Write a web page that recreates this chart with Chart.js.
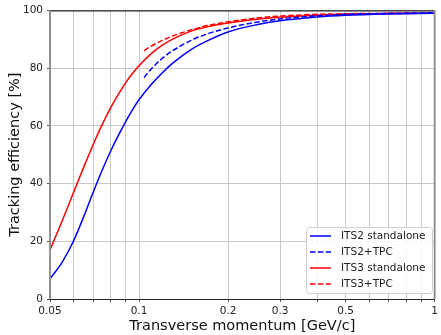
<!DOCTYPE html>
<html><head><meta charset="utf-8">
<script src="https://cdn.jsdelivr.net/npm/chart.js@4.4.0/dist/chart.umd.min.js"></script>
<style>html,body{margin:0;padding:0;background:#fff;} canvas{display:block;}</style>
</head><body>
<canvas id="c" width="441" height="335"></canvas>
<script>
const ptStandalone = [0.05,0.055,0.06,0.065,0.07,0.075,0.08,0.085,0.09,0.095,0.1,0.11,0.12,0.13,0.15,0.17,0.2,0.25,0.3,0.4,0.5,0.7,1.0];
const its2Standalone = [7,12.8,20,28.5,37,44.5,51,56.5,61.3,65.5,69,74.3,78.4,81.7,86.4,89.4,92.5,95.0,96.4,97.7,98.3,98.75,99.0];
const its3Standalone = [17,27.1,36.8,45.6,53.5,60.3,66.0,70.8,74.8,78.1,80.8,85.0,87.9,90.0,92.8,94.3,95.6,96.9,97.6,98.3,98.6,98.85,99.0];
const ptTpc = [0.104,0.11,0.12,0.13,0.15,0.17,0.2,0.25,0.3,0.4,0.5,0.7,1.0];
const its2Tpc = [76.7,79.7,83.4,86.0,89.6,91.8,93.9,95.9,97.0,98.1,98.6,98.95,99.15];
const its3Tpc = [86.0,87.6,89.6,91.1,93.2,94.7,96.0,97.3,98.0,98.6,98.8,98.95,99.05];
const seriesLabels = ['ITS2 standalone','ITS2+TPC','ITS3 standalone','ITS3+TPC'];
const xTickValues = [0.05,0.06,0.07,0.08,0.09,0.1,0.2,0.3,0.4,0.5,0.6,0.7,0.8,0.9,1];
const xTickLabels = {0.05:'0.05',0.1:'0.1',0.2:'0.2',0.3:'0.3',0.5:'0.5',1:'1'};
const yTickValues = [0,20,40,60,80,100];

const toPts = (xs, ys) => xs.map((x,i)=>({x:x, y:ys[i]}));
const FONT = 'DejaVu Sans';

const frameAndLegend = {
  id: 'frameAndLegend',
  afterDraw(chart) {
    const ctx = chart.ctx, a = chart.chartArea;
    ctx.save();
    ctx.lineWidth = 1.2;
    ctx.strokeStyle = '#222';
    ctx.beginPath();
    ctx.moveTo(a.left, a.top + 0.5); ctx.lineTo(a.right, a.top + 0.5);
    ctx.moveTo(a.left, a.bottom + 0.5); ctx.lineTo(a.right, a.bottom + 0.5);
    ctx.stroke();
    ctx.strokeStyle = '#8a8a8a';
    ctx.lineWidth = 1.8;
    ctx.beginPath();
    ctx.moveTo(a.left, a.top); ctx.lineTo(a.left, a.bottom);
    ctx.moveTo(a.right, a.top); ctx.lineTo(a.right, a.bottom);
    ctx.stroke();
    // legend
    const bx = 306, by = 227, bw = 126, bh = 66, r = 3;
    ctx.fillStyle = 'rgba(255,255,255,0.85)';
    ctx.strokeStyle = '#d0d0d0';
    ctx.lineWidth = 1;
    ctx.beginPath();
    ctx.roundRect(bx + 0.5, by + 0.5, bw, bh, r);
    ctx.fill(); ctx.stroke();
    ctx.font = '10.5px "' + FONT + '"';
    ctx.textBaseline = 'middle';
    ctx.textAlign = 'left';
    chart.data.datasets.forEach((ds, i) => {
      const yy = 236 + i * 16;
      ctx.strokeStyle = ds.borderColor;
      ctx.lineWidth = 1.5;
      ctx.setLineDash(ds.borderDash || []);
      ctx.beginPath();
      ctx.moveTo(310, yy); ctx.lineTo(331, yy);
      ctx.stroke();
      ctx.setLineDash([]);
      ctx.fillStyle = '#222';
      ctx.fillText(ds.label, 341, yy + 0.5);
    });
    ctx.restore();
  }
};

new Chart(document.getElementById('c'), {
  type: 'line',
  data: {
    datasets: [
      {label: seriesLabels[0], data: toPts(ptStandalone, its2Standalone), borderColor: '#0000ff', borderWidth: 1.5},
      {label: seriesLabels[1], data: toPts(ptTpc, its2Tpc), borderColor: '#0000ff', borderWidth: 1.5, borderDash: [5.5, 2.4]},
      {label: seriesLabels[2], data: toPts(ptStandalone, its3Standalone), borderColor: '#ff0000', borderWidth: 1.5},
      {label: seriesLabels[3], data: toPts(ptTpc, its3Tpc), borderColor: '#ff0000', borderWidth: 1.5, borderDash: [5.5, 2.4]}
    ]
  },
  options: {
    responsive: false,
    devicePixelRatio: 1,
    animation: false,
    parsing: false,
    elements: {point: {radius: 0}, line: {cubicInterpolationMode: 'monotone', fill: false}},
    layout: {padding: {left: 0, top: 10, right: 4, bottom: 0}},
    plugins: {legend: {display: false}, tooltip: {enabled: false}},
    scales: {
      x: {
        type: 'logarithmic', min: 0.05, max: 1,
        afterBuildTicks: s => { s.ticks = xTickValues.map(v => ({value: v})); },
        afterFit: s => { s.height = 36; },
        ticks: {
          autoSkip: false, maxRotation: 0, minRotation: 0, padding: 3,
          color: '#222', font: {family: FONT, size: 10.5},
          callback: v => (xTickLabels[v] !== undefined ? xTickLabels[v] : '')
        },
        grid: {color: '#c8c8c8', lineWidth: 1, tickLength: 3, tickColor: '#555'},
        border: {display: false},
        title: {display: true, text: 'Transverse momentum [GeV/c]', color: '#111',
                font: {family: FONT, size: 14.5}, padding: {top: 0, bottom: 0}}
      },
      y: {
        min: 0, max: 100,
        afterBuildTicks: s => { s.ticks = yTickValues.map(v => ({value: v})); },
        afterFit: s => { s.width = 50; },
        ticks: {color: '#222', font: {family: FONT, size: 10.5}, padding: 4},
        grid: {color: '#c8c8c8', lineWidth: 1, tickLength: 3, tickColor: '#555'},
        border: {display: false},
        title: {display: true, text: 'Tracking efficiency [%]', color: '#111',
                font: {family: FONT, size: 14.5}, padding: {top: 7, bottom: 0}}
      }
    }
  },
  plugins: [frameAndLegend]
});
</script>
</body></html>
